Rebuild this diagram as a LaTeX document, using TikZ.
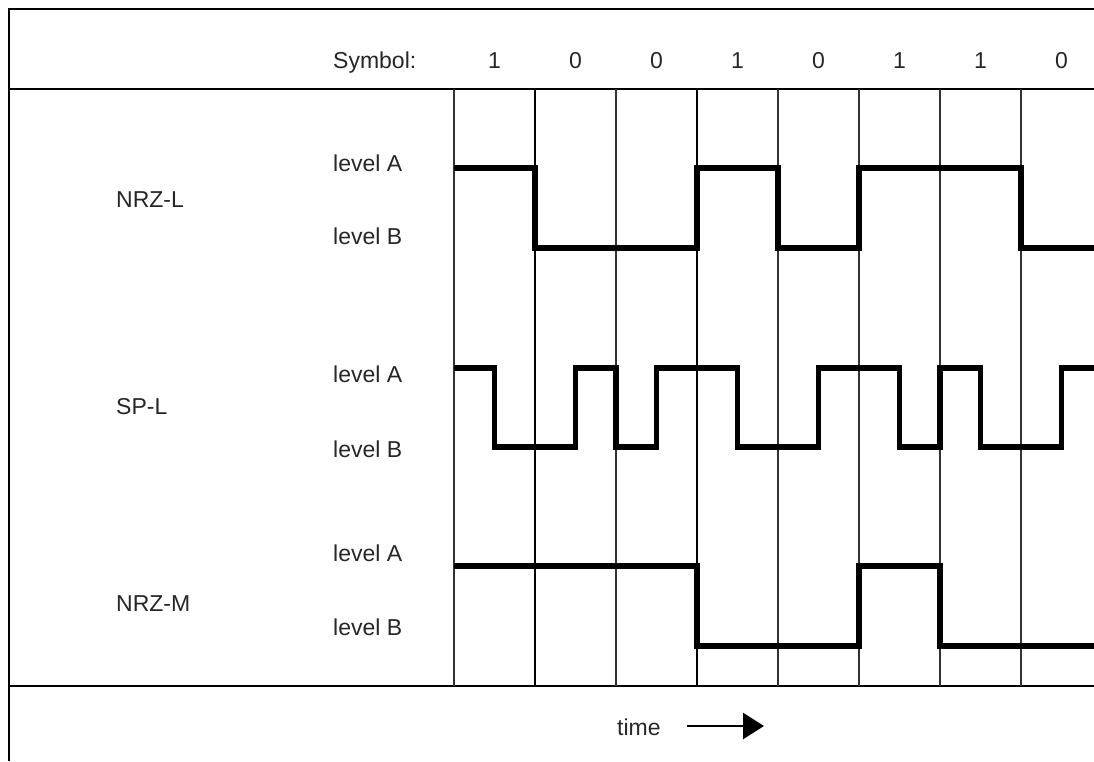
\documentclass[tikz,border=0pt]{standalone}
\usepackage{fontspec}
\setmainfont{Liberation Sans}
\usetikzlibrary{arrows.meta}

\begin{document}
\begin{tikzpicture}[x=1pt, y=-1pt, font=\fontsize{23}{28}\selectfont,
    lbl/.style={anchor=base west, inner sep=0pt, text=black!85},
    bit/.style={anchor=base, inner sep=0pt, text=black!85},
    sig/.style={line width=5.5pt, line join=miter},
    thin grid/.style={line width=1.1pt, black!80},
    bold grid/.style={line width=2pt}]
    \useasboundingbox (0,0) rectangle (1094,761);

    % frame
    \draw[line width=2.8pt] (1094,9) -- (9,9) -- (9,761);
    \draw[line width=2.8pt] (9,89) -- (1094,89);
    \draw[line width=2.8pt] (9,686) -- (1094,686);

    % symbol row
    \node[lbl] (sym) at (333,68) {Symbol:};
    \node[bit] (bit1) at (494.5,68) {1};
    \node[bit] (bit2) at (575.5,68) {0};
    \node[bit] (bit3) at (656.5,68) {0};
    \node[bit] (bit4) at (737.5,68) {1};
    \node[bit] (bit5) at (818.5,68) {0};
    \node[bit] (bit6) at (899.5,68) {1};
    \node[bit] (bit7) at (980.5,68) {1};
    \node[bit] (bit8) at (1061.5,68) {0};

    % grid
    \draw[thin grid] (454,89) -- (454,686);
    \draw[bold grid] (535,89) -- (535,686);
    \draw[thin grid] (616,89) -- (616,686);
    \draw[bold grid] (697,89) -- (697,686);
    \draw[thin grid] (778,89) -- (778,686);
    \draw[thin grid] (859,89) -- (859,686);
    \draw[thin grid] (940,89) -- (940,686);
    \draw[thin grid] (1021,89) -- (1021,686);

    % NRZ-L
    \node[lbl] (nrzl) at (116,207) {NRZ-L};
    \node[lbl] (nrzlA) at (333,171) {level A};
    \node[lbl] (nrzlB) at (333,244) {level B};
    \draw[sig] (454,168) -- (535,168) -- (535,248) -- (697,248) -- (697,168)
        -- (778,168) -- (778,248) -- (859,248) -- (859,168) -- (1021,168)
        -- (1021,248) -- (1094,248);

    % SP-L
    \node[lbl] (spl) at (116,414) {SP-L};
    \node[lbl] (splA) at (333,382) {level A};
    \node[lbl] (splB) at (333,457) {level B};
    \draw[sig] (454,368) -- (494.5,368) -- (494.5,447) -- (575.5,447) -- (575.5,368)
        -- (616,368) -- (616,447) -- (656.5,447) -- (656.5,368) -- (737.5,368)
        -- (737.5,447) -- (818.5,447) -- (818.5,368) -- (899.5,368) -- (899.5,447)
        -- (940,447) -- (940,368) -- (980.5,368) -- (980.5,447) -- (1061.5,447)
        -- (1061.5,368) -- (1094,368);

    % NRZ-M
    \node[lbl] (nrzm) at (116,611) {NRZ-M};
    \node[lbl] (nrzmA) at (333,561) {level A};
    \node[lbl] (nrzmB) at (333,635) {level B};
    \draw[sig] (454,566) -- (697,566) -- (697,646) -- (859,646) -- (859,566)
        -- (940,566) -- (940,646) -- (1094,646);

    % time
    \node[lbl] (time) at (617,735) {time};
    \coordinate (tstart) at (687,726);
    \coordinate (tend) at (764,726);
    \draw[line width=2.5pt, -{Triangle[length=21pt, width=26pt]}] (tstart) -- (tend);
\end{tikzpicture}
\end{document}
